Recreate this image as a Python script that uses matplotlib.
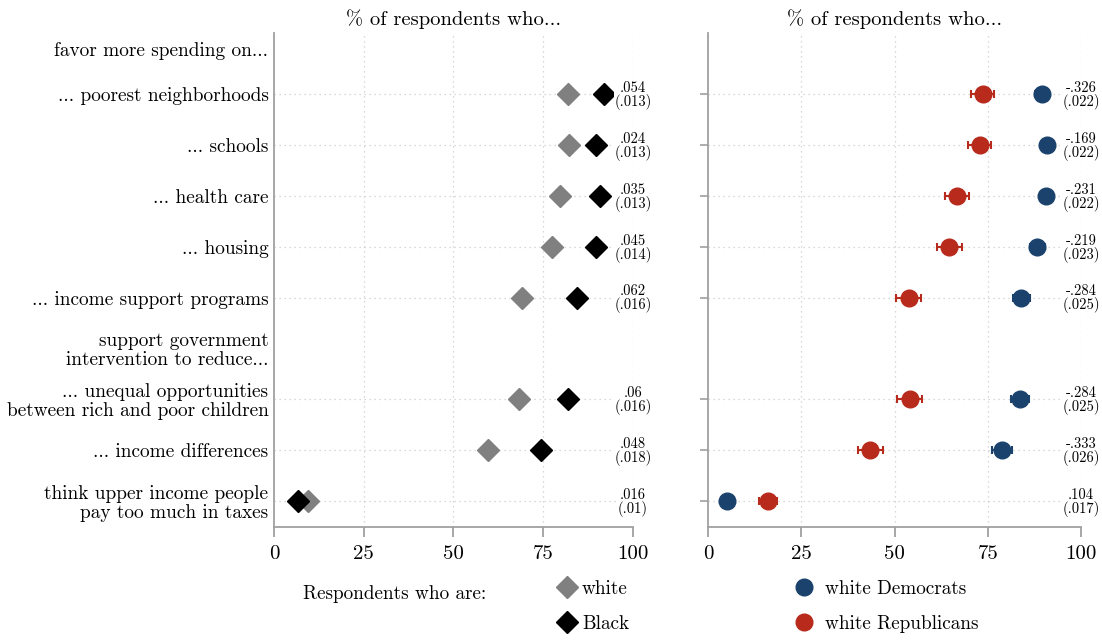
import numpy as np
import matplotlib.pyplot as plt

plt.rcParams['font.family'] = ['cmr10', 'DejaVu Serif']
plt.rcParams['axes.unicode_minus'] = False
plt.rcParams['mathtext.fontset'] = 'cm'

# Подписи строк (заголовки групп без данных)
row_labels = [
    'favor more spending on...',
    '... poorest neighborhoods',
    '... schools',
    '... health care',
    '... housing',
    '... income support programs',
    'support government\nintervention to reduce...',
    '... unequal opportunities\nbetween rich and poor children',
    '... income differences',
    'think upper income people\npay too much in taxes',
]
label_rows = [0.12, 1, 2, 3, 4, 5, 6, 7, 8, 9]
data_rows = [1, 2, 3, 4, 5, 7, 8, 9]

# Левая панель: белые и чёрные респонденты
white = [81.8, 82.3, 79.7, 77.5, 69.1, 68.2, 59.7, 9.5]
black = [91.8, 89.6, 90.7, 89.6, 84.5, 81.9, 74.3, 6.7]
race_coef = ['.054', '.024', '.035', '.045', '.062', '.06', '.048', '.016']
race_se = ['(.013)', '(.013)', '(.013)', '(.014)', '(.016)', '(.016)', '(.018)', '(.01)']

# Правая панель: белые демократы и республиканцы
dem = [89.5, 90.8, 90.6, 88.3, 84.0, 83.6, 78.7, 5.0]
dem_ci = [1.8, 1.6, 1.6, 1.9, 2.3, 2.5, 2.7, 1.3]
rep = [73.6, 72.8, 66.7, 64.7, 53.8, 54.1, 43.5, 16.1]
rep_ci = [3.0, 3.0, 3.2, 3.3, 3.4, 3.35, 3.3, 2.5]
party_coef = ['-.326', '-.169', '-.231', '-.219', '-.284', '-.284', '-.333', '.104']
party_se = ['(.022)', '(.022)', '(.022)', '(.023)', '(.025)', '(.025)', '(.026)', '(.017)']

grid_c = '#cccccc'
axis_c = '#a0a0a0'
navy = '#1b426c'
red = '#b82a1c'

fig = plt.figure(figsize=(11.02, 6.4), dpi=100)
ax1 = fig.add_axes([0.2486, 0.1766, 0.3258, 0.7719])
ax2 = fig.add_axes([0.6425, 0.1766, 0.3385, 0.7719])

for ax in (ax1, ax2):
    ax.set_xlim(0, 100)
    ax.set_ylim(9.51, -0.2)
    ax.set_xticks([0, 25, 50, 75, 100])
    for x in [25, 50, 75, 100]:
        ax.axvline(x, color=grid_c, lw=0.9, ls=(0, (1, 3)), zorder=0)
    for y in data_rows:
        ax.axhline(y, color=grid_c, lw=0.9, ls=(0, (1, 3)), zorder=0)
    ax.spines[['top', 'right']].set_visible(False)
    for s in ['left', 'bottom']:
        ax.spines[s].set_color(axis_c)
        ax.spines[s].set_linewidth(1.3)
    ax.tick_params(axis='x', length=7, width=1.3, color=axis_c, labelsize=15, pad=6)
    ax.set_title('% of respondents who...', fontsize=14.8, pad=6)

# Левая панель
ax1.set_yticks(label_rows)
ax1.set_yticklabels(row_labels, linespacing=1.05)
ax1.tick_params(axis='y', length=0, labelsize=13.9, pad=4)

w_line, = ax1.plot(white, data_rows, 'D', ls='none', color='#808080', ms=10.8, zorder=3)
b_line, = ax1.plot(black, data_rows, 'D', ls='none', color='black', ms=10.8, zorder=4)

for y, c, s in zip(data_rows, race_coef, race_se):
    ax1.text(100, y + 0.03, c + '\n' + s, ha='center', va='center', fontsize=10.5,
             linespacing=0.92, clip_on=False, zorder=5,
             bbox=dict(fc='white', ec='none', pad=0.5))

# Правая панель
ax2.set_yticks(data_rows)
ax2.set_yticklabels([])
ax2.tick_params(axis='y', length=6, width=1.2, color=axis_c)

ax2.errorbar(dem, data_rows, xerr=dem_ci, fmt='none', ecolor=navy, elinewidth=1.5,
             capsize=3, capthick=1.5, zorder=3)
ax2.errorbar(rep, data_rows, xerr=rep_ci, fmt='none', ecolor=red, elinewidth=1.5,
             capsize=3, capthick=1.5, zorder=3)
d_line, = ax2.plot(dem, data_rows, 'o', ls='none', color=navy, ms=12, zorder=4)
r_line, = ax2.plot(rep, data_rows, 'o', ls='none', color=red, ms=12, zorder=4)

for y, c, s in zip(data_rows, party_coef, party_se):
    ax2.text(100, y + 0.03, c + '\n' + s, ha='center', va='center', fontsize=10.5,
             linespacing=0.92, clip_on=False, zorder=5,
             bbox=dict(fc='white', ec='none', pad=0.5))

# Легенды
fig.text(303 / 1102, 1 - 594 / 640, 'Respondents who are:', va='center', fontsize=13.8)
ax1.legend([w_line, b_line], ['white', 'Black'], loc='upper left',
           bbox_to_anchor=(557 / 1102, 1 - 580 / 640), bbox_transform=fig.transFigure,
           frameon=False, fontsize=13.8, handlelength=1.0, handletextpad=0.3,
           labelspacing=0.9, borderpad=0, borderaxespad=0)
ax2.legend([d_line, r_line], ['white Democrats', 'white Republicans'], loc='upper left',
           bbox_to_anchor=(794 / 1102, 1 - 580 / 640), bbox_transform=fig.transFigure,
           frameon=False, fontsize=13.8, handlelength=1.0, handletextpad=0.6,
           labelspacing=0.9, borderpad=0, borderaxespad=0)

fig.savefig('out.png', dpi=100)
